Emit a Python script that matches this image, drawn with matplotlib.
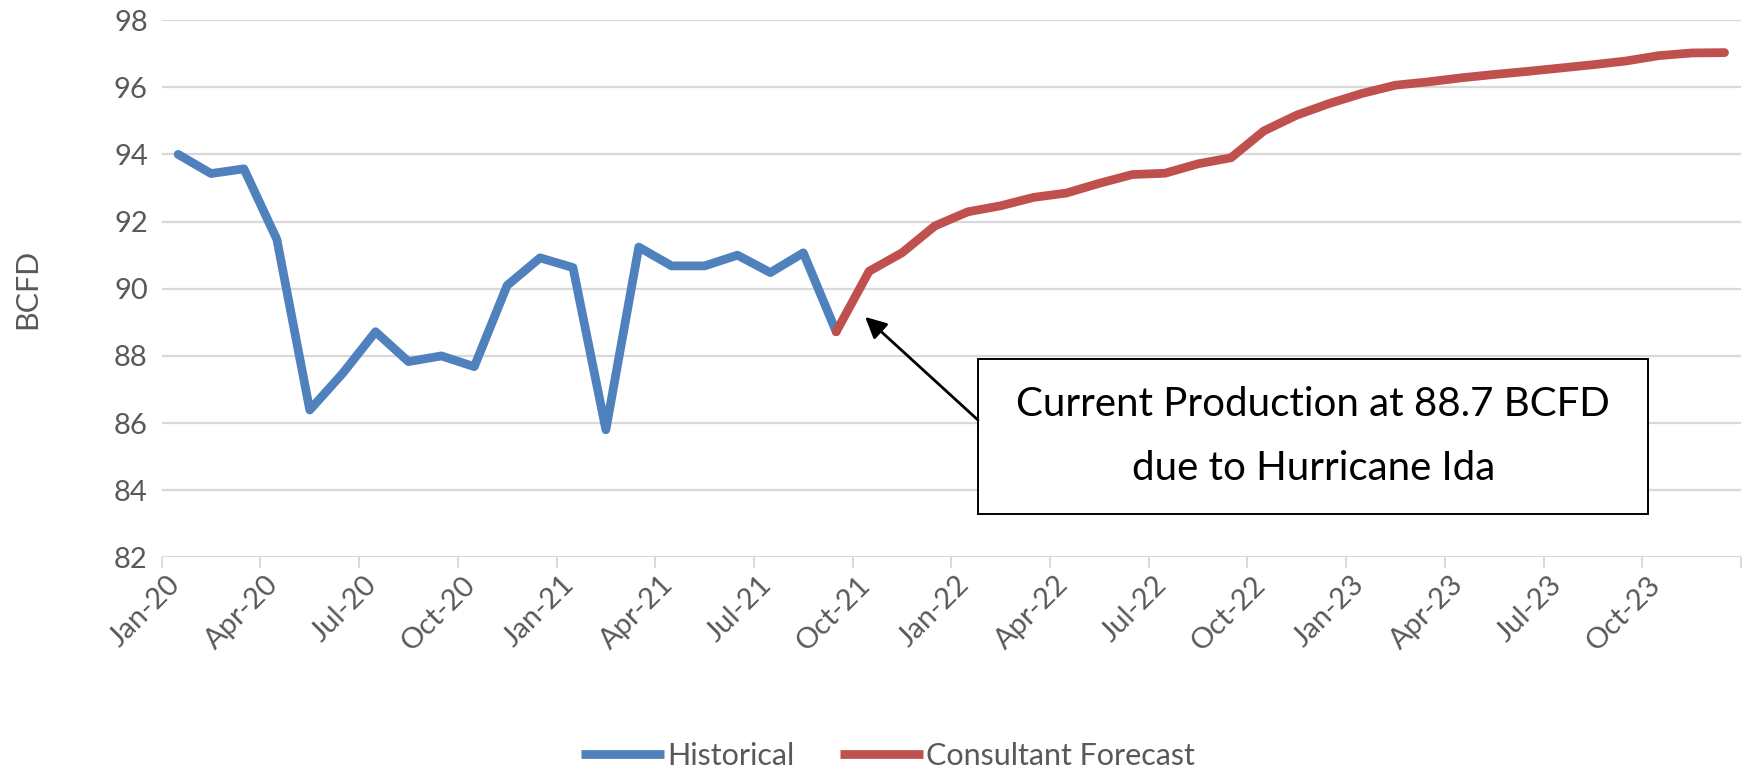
import matplotlib
matplotlib.use("Agg")
import matplotlib.pyplot as plt
import matplotlib.transforms as mtransforms
from matplotlib.patches import Rectangle
import numpy as np

# ---- data (monthly, Jan-20 .. Dec-23) ----
historical = [94.0, 93.43, 93.57, 91.47, 86.39, 87.48, 88.72, 87.83, 88.0, 87.68,
              90.1, 90.92, 90.63, 85.8, 91.24, 90.68, 90.68, 91.0, 90.48, 91.07,
              88.72]                                   # Jan-20 .. Sep-21
forecast = [88.72, 90.52, 91.07, 91.87, 92.29, 92.47, 92.72, 92.85, 93.14, 93.4,
            93.44, 93.72, 93.9, 94.7, 95.17, 95.52, 95.82, 96.06, 96.16, 96.28,
            96.38, 96.47, 96.57, 96.67, 96.78, 96.94, 97.02, 97.03]   # Sep-21 .. Dec-23
forecast_start = 20     # month index of Sep-21
tick_labels = ["Jan-20", "Apr-20", "Jul-20", "Oct-20", "Jan-21", "Apr-21", "Jul-21",
               "Oct-21", "Jan-22", "Apr-22", "Jul-22", "Oct-22", "Jan-23", "Apr-23",
               "Jul-23", "Oct-23"]
y_ticks = [82, 84, 86, 88, 90, 92, 94, 96, 98]

BLUE = "#4f81bd"
RED = "#c0504d"
GRAY = "#595959"
GRID = "#d9d9d9"
FS = 21

plt.rcParams["font.family"] = ["Lato", "DejaVu Sans"]

fig = plt.figure(figsize=(17.48, 7.71), dpi=100)
ax = fig.add_axes([0.0925, 0.277, 0.9035, 0.697])

x_hist = np.arange(len(historical)) + 0.5
x_fc = np.arange(len(forecast)) + forecast_start + 0.5
ax.plot(x_hist, historical, color=BLUE, lw=6.3, solid_joinstyle="round",
        solid_capstyle="round", label="Historical", zorder=3)
ax.plot(x_fc, forecast, color=RED, lw=6.3, solid_joinstyle="round",
        solid_capstyle="round", label="Consultant Forecast", zorder=3)

ax.set_xlim(0, 48)
ax.set_ylim(82, 98)
ax.set_yticks(y_ticks)
ax.set_yticklabels([str(v) for v in y_ticks])
ax.set_xticks(np.arange(0, 49, 3))
ax.set_xticklabels(tick_labels + [""])

for s in ax.spines.values():
    s.set_visible(False)
ax.grid(axis="y", color=GRID, lw=1.6, zorder=0)
ax.set_axisbelow(True)

ax.tick_params(axis="y", length=0, pad=10, labelsize=FS, labelcolor=GRAY)
ax.tick_params(axis="x", length=8, width=1.4, color=GRID, direction="out",
               pad=8.6, labelsize=FS, labelcolor=GRAY)
offset = mtransforms.ScaledTranslation(0.14, 0, fig.dpi_scale_trans)
for lab in ax.get_xticklabels():
    lab.set_rotation(45)
    lab.set_ha("right")
    lab.set_va("center")
    lab.set_rotation_mode("anchor")
    lab.set_transform(lab.get_transform() + offset)

ax.set_ylabel("BCFD", fontsize=FS + 1, color=GRAY, labelpad=52)

# annotation box + arrow
ax.add_patch(Rectangle((24.81, 83.29), 45.18 - 24.81, 87.91 - 83.29,
                       fill=True, facecolor="white", edgecolor="black",
                       lw=1.4, zorder=4))
ax.text(35.0, 86.54, "Current Production at 88.7 BCFD", ha="center", va="center",
        fontsize=29, color="black", zorder=5)
ax.text(35.0, 84.66, "due to Hurricane Ida", ha="center", va="center",
        fontsize=29, color="black", zorder=5)
ax.annotate("", xy=(21.38, 89.16), xytext=(24.81, 86.09),
            arrowprops=dict(arrowstyle="-|>", color="black", lw=2.0,
                            mutation_scale=32, shrinkA=0, shrinkB=0),
            zorder=5)

leg = fig.legend(loc="center", bbox_to_anchor=(0.508, 0.0195), ncol=2,
                 frameon=False, fontsize=FS + 1, handlelength=2.7, handletextpad=0.1,
                 columnspacing=1.5, borderpad=0)
for t in leg.get_texts():
    t.set_color(GRAY)
for h in leg.get_lines():
    h.set_linewidth(6.3)
    h.set_solid_capstyle("butt")

fig.savefig("out.png", dpi=100)
